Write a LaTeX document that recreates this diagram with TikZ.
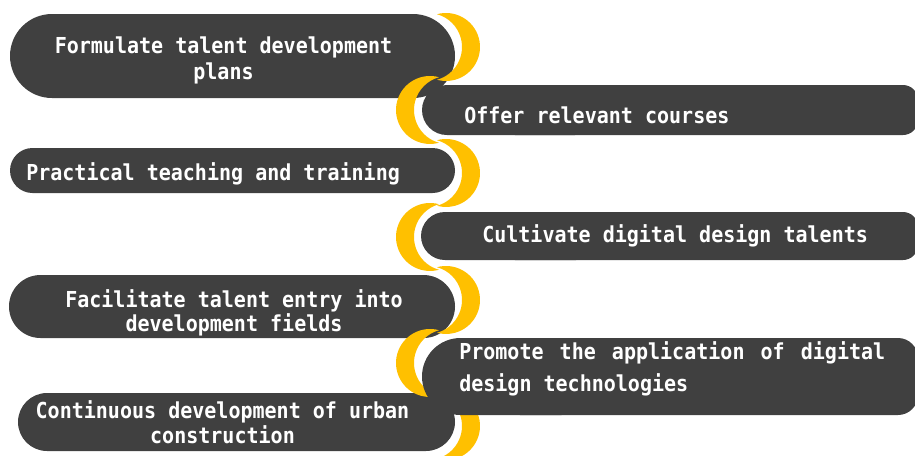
\documentclass[tikz,border=0pt]{standalone}
\usepackage{fontspec}
\newfontfamily\monofnt[FakeStretch=0.91]{DejaVu Sans Mono}
\definecolor{boxdark}{HTML}{404040}
\definecolor{crescent}{HTML}{FFC000}
\tikzset{
  boxfill/.style={fill=boxdark},
  yel/.style={fill=crescent},
  lbl/.style={text=white, inner sep=0pt, font=\monofnt\bfseries\fontsize{16.5}{20}\selectfont},
}
% crescent on the right side of a left box; #1 = centre y (negative)
\newcommand\rightcres[1]{\fill[yel] (437,{#1+32.8}) arc[start angle=105.35,end angle=-105.35,radius=34] arc[start angle=-74.65,end angle=74.65,radius=34] -- cycle;}
% crescent on the left side of a right box
\newcommand\leftcres[1]{\fill[yel] (439,{#1+32.8}) arc[start angle=74.65,end angle=285.35,radius=34] arc[start angle=254.65,end angle=105.35,radius=34] -- cycle;}
\begin{document}
\begin{tikzpicture}[x=0.75pt,y=0.75pt]
\useasboundingbox (0,0) rectangle (915,-455);
\clip (0,0) rectangle (915,-455);
% row 1
\fill[boxfill, rounded corners=31.5pt] (10,-14) rectangle (455,-98);
\rightcres{-47}
% row 2
\leftcres{-110}
\fill[boxfill, rounded corners=18.75pt] (422,-85) rectangle (600,-135);
\fill[boxfill, rounded corners=11.25pt] (500,-85) rectangle (918,-135);
% row 3
\fill[boxfill, rounded corners=16.875pt] (10,-148) rectangle (455,-193);
\rightcres{-173}
% row 4
\leftcres{-237}
\fill[boxfill, rounded corners=18pt] (421,-212) rectangle (600,-260);
\fill[boxfill, rounded corners=11.25pt] (500,-212) rectangle (918,-260);
% row 5
\fill[boxfill, rounded corners=23.625pt] (9,-275) rectangle (455,-338);
\rightcres{-300}
% row 7 and 6
\fill[boxfill, rounded corners=21.75pt] (18,-393) rectangle (455,-451);
\leftcres{-363}
\rightcres{-426}
\fill[boxfill, rounded corners=28.875pt] (422,-338) rectangle (600,-415);
\fill[boxfill, rounded corners=15pt] (500,-338) rectangle (918,-415);
% texts
\node[lbl, anchor=base] (t1a) at (223.5,-53) {Formulate talent development};
\node[lbl, anchor=base] (t1b) at (223.5,-79) {plans};
\node[lbl, anchor=base west] (t2) at (464,-123) {Offer relevant courses};
\node[lbl, anchor=base west] (t3) at (26,-180) {Practical teaching and training};
\node[lbl, anchor=base west] (t4) at (482,-242) {Cultivate digital design talents};
\node[lbl, anchor=base] (t5a) at (234,-307) {Facilitate talent entry into};
\node[lbl, anchor=base] (t5b) at (234,-331) {development fields};
\node[lbl, anchor=base west] (t6a) at (459,-359) {\hbox to 319.5pt{Promote \hfill the \hfill application \hfill of \hfill digital}};
\node[lbl, anchor=base west] (t6b) at (459,-391) {design technologies};
\node[lbl, anchor=base] (t7a) at (222.5,-418) {Continuous development of urban};
\node[lbl, anchor=base] (t7b) at (222.5,-443) {construction};
\end{tikzpicture}
\end{document}
